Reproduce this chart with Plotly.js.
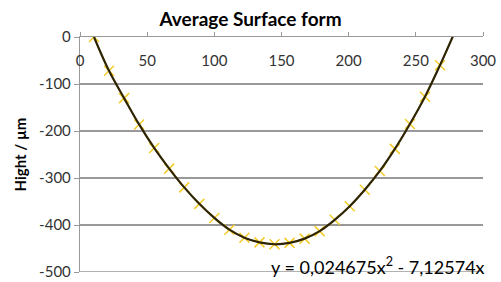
<!DOCTYPE html>
<html>
<head>
<meta charset="utf-8">
<script src="https://cdn.plot.ly/plotly-3.0.1.min.js"></script>
<style>html,body{margin:0;padding:0;background:#fff;}#chart{width:501px;height:282px;}</style>
</head>
<body>
<div id="chart"></div>
<script>
const titleText = "Average Surface form";
const yTitle = "Hight / µm";
const equationText = "y = 0,024675x<sup>2</sup> - 7,12574x";

const positions = [10.4, 21.6, 32.8, 44, 55.2, 66.4, 77.6, 88.8, 100, 111.2, 122.4, 133.6, 144.8, 156, 167.2, 178.4, 189.6, 200.8, 212, 223.2, 234.4, 245.6, 256.8, 268, 279.2];
const heights = [0, -72, -130, -186, -236, -280, -320, -355, -385, -410, -427, -437, -441, -438, -429, -413, -389, -360, -325, -285, -238, -185, -127, -60, 12];

const xTicks = [0, 50, 100, 150, 200, 250, 300];
const yTicks = [0, -100, -200, -300, -400, -500];

const font = "Lato, 'Open Sans', sans-serif";

const traces = [
  {
    x: positions, y: heights, type: "scatter", mode: "markers",
    marker: {symbol: "x-thin", size: 10, line: {color: "#F5CC2A", width: 1.5}},
    cliponaxis: true, showlegend: false, hoverinfo: "skip"
  },
  {
    x: positions, y: heights, type: "scatter", mode: "lines",
    line: {color: "#2E2400", width: 2.2, shape: "spline", smoothing: 1},
    showlegend: false, hoverinfo: "skip"
  }
];

// horizontal gridlines at the y tick values (below the axis line at 0)
const gridShapes = yTicks.filter(function(v){ return v < 0; }).map(function(v){
  return {type: "line", xref: "paper", x0: 0, x1: 1, yref: "y", y0: v, y1: v,
          line: {color: "#999999", width: 1.6}, layer: "below"};
});

const layout = {
  width: 501, height: 282,
  margin: {l: 80, r: 18, t: 37, b: 10},
  paper_bgcolor: "#fff", plot_bgcolor: "#fff",
  title: {text: "<b>" + titleText + "</b>", font: {family: font, size: 19, color: "#000"}, x: 0.5, xanchor: "center", y: 0.93, yanchor: "middle"},
  xaxis: {
    range: [0, 300], tickvals: xTicks, ticktext: xTicks.map(String),
    side: "top", ticks: "outside", ticklen: 4, tickcolor: "#999", tickwidth: 1,
    ticklabelposition: "inside", ticklabeloverflow: "allow", ticklabelstandoff: 18,
    showline: true, linecolor: "#999", linewidth: 1.2,
    showgrid: false, zeroline: false,
    tickfont: {family: font, size: 15, color: "#333"}
  },
  yaxis: {
    range: [-500, 0], tickvals: yTicks, ticktext: yTicks.map(String),
    ticks: "outside", ticklen: 5, tickcolor: "#999", tickwidth: 1,
    showline: true, linecolor: "#999", linewidth: 1.2,
    showgrid: true, gridcolor: "#999999", gridwidth: 1.6, zeroline: false,
    tickfont: {family: font, size: 15, color: "#333"},
    title: {text: "<b>" + yTitle + "</b>", font: {family: font, size: 15, color: "#000"}, standoff: 8}
  },
  shapes: gridShapes,
  annotations: [
    {text: equationText, xref: "paper", yref: "paper", x: 1.01, y: 0.025, xanchor: "right", yanchor: "middle",
     showarrow: false, font: {family: font, size: 18, color: "#000"}}
  ]
};

Plotly.newPlot("chart", traces, layout, {displayModeBar: false, staticPlot: true});
</script>
</body>
</html>
